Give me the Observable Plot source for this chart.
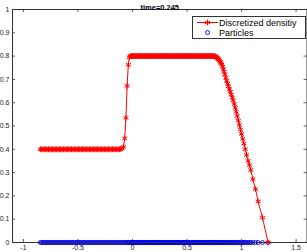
<!DOCTYPE html>
<html>
<head>
<meta charset="utf-8">
<script src="https://cdn.jsdelivr.net/npm/d3@7"></script>
<script src="https://cdn.jsdelivr.net/npm/@observablehq/plot@0.6"></script>
<style>
  body { margin: 0; background: #fff; }
  #wrap { position: relative; width: 307px; height: 252px; font-family: "Liberation Sans", Arial, sans-serif; }
  #legend { position: absolute; left: 192px; top: 16px; width: 112px; height: 21px; border: 1px solid #333; background: #fff; }
  #legend svg { position: absolute; left: 0; top: 0; }
</style>
</head>
<body>
<div id="wrap"></div>
<script>
const title = "time=0.245";
const xTicks = [-1, -0.5, 0, 0.5, 1, 1.5];
const yTicks = [0, 0.1, 0.2, 0.3, 0.4, 0.5, 0.6, 0.7, 0.8, 0.9, 1];
const seriesNames = ["Discretized densitiy", "Particles"];

// particle positions / density: low plateau
const xLeft = [
  -0.845, -0.833, -0.82, -0.808, -0.795, -0.783, -0.77, -0.758, -0.745, -0.733,
  -0.72, -0.708, -0.695, -0.683, -0.67, -0.658, -0.645, -0.633, -0.62, -0.608,
  -0.595, -0.583, -0.57, -0.558, -0.545, -0.533, -0.52, -0.508, -0.495, -0.483,
  -0.47, -0.458, -0.445, -0.433, -0.42, -0.408, -0.395, -0.383, -0.37, -0.358,
  -0.345, -0.333, -0.32, -0.308, -0.295, -0.283, -0.27, -0.258, -0.245, -0.233,
  -0.22, -0.208, -0.195, -0.183, -0.17, -0.158, -0.145, -0.133, -0.12, -0.108,
  -0.095
];
const rhoLeft = [
  0.4, 0.4, 0.4, 0.4, 0.4, 0.4, 0.4, 0.4, 0.4, 0.4,
  0.4, 0.4, 0.4, 0.4, 0.4, 0.4, 0.4, 0.4, 0.4, 0.4,
  0.4, 0.4, 0.4, 0.4, 0.4, 0.4, 0.4, 0.4, 0.4, 0.4,
  0.4, 0.4, 0.4, 0.4, 0.4, 0.4, 0.4, 0.4, 0.4, 0.4,
  0.4, 0.4, 0.4, 0.4, 0.4, 0.4, 0.4, 0.4, 0.4, 0.4,
  0.4, 0.4, 0.4, 0.4, 0.4, 0.4, 0.4, 0.4, 0.4, 0.401,
  0.404
];
// jump
const xRise = [-0.083, -0.071, -0.06, -0.049, -0.038, -0.029, -0.021];
const rhoRise = [0.41, 0.447, 0.535, 0.672, 0.763, 0.795, 0.799];
// high plateau
const xTop = [
  -0.014, -0.007, 0, 0.007, 0.014, 0.021, 0.028, 0.035, 0.042, 0.049,
  0.056, 0.063, 0.07, 0.077, 0.084, 0.091, 0.098, 0.105, 0.112, 0.119,
  0.126, 0.133, 0.14, 0.147, 0.154, 0.161, 0.168, 0.175, 0.182, 0.189,
  0.196, 0.203, 0.21, 0.217, 0.224, 0.231, 0.238, 0.245, 0.252, 0.259,
  0.266, 0.273, 0.28, 0.287, 0.294, 0.301, 0.308, 0.315, 0.322, 0.329,
  0.336, 0.343, 0.35, 0.357, 0.364, 0.371, 0.378, 0.385, 0.392, 0.399,
  0.406, 0.413, 0.42, 0.427, 0.434, 0.441, 0.448, 0.455, 0.462, 0.469,
  0.476, 0.483, 0.49, 0.497, 0.504, 0.511, 0.518, 0.525, 0.532, 0.539,
  0.546, 0.553, 0.56, 0.567, 0.574, 0.581, 0.588, 0.595, 0.602, 0.609,
  0.616, 0.623, 0.63, 0.637, 0.644, 0.651, 0.658, 0.665, 0.672, 0.679,
  0.686, 0.693, 0.7, 0.707, 0.714, 0.721, 0.728, 0.735, 0.742
];
const rhoTop = [
  0.8, 0.8, 0.8, 0.8, 0.8, 0.8, 0.8, 0.8, 0.8, 0.8,
  0.8, 0.8, 0.8, 0.8, 0.8, 0.8, 0.8, 0.8, 0.8, 0.8,
  0.8, 0.8, 0.8, 0.8, 0.8, 0.8, 0.8, 0.8, 0.8, 0.8,
  0.8, 0.8, 0.8, 0.8, 0.8, 0.8, 0.8, 0.8, 0.8, 0.8,
  0.8, 0.8, 0.8, 0.8, 0.8, 0.8, 0.8, 0.8, 0.8, 0.8,
  0.8, 0.8, 0.8, 0.8, 0.8, 0.8, 0.8, 0.8, 0.8, 0.8,
  0.8, 0.8, 0.8, 0.8, 0.8, 0.8, 0.8, 0.8, 0.8, 0.8,
  0.8, 0.8, 0.8, 0.8, 0.8, 0.8, 0.8, 0.8, 0.8, 0.8,
  0.8, 0.8, 0.8, 0.8, 0.8, 0.8, 0.8, 0.8, 0.8, 0.8,
  0.8, 0.8, 0.8, 0.8, 0.8, 0.8, 0.8, 0.8, 0.8, 0.8,
  0.8, 0.8, 0.8, 0.8, 0.8, 0.8, 0.8, 0.8, 0.8
];
// rarefaction / decay
const xFall = [
  0.749, 0.756, 0.763, 0.77, 0.777, 0.784, 0.791, 0.798, 0.805, 0.812,
  0.819, 0.826, 0.833, 0.84, 0.848, 0.856, 0.864, 0.872, 0.88, 0.888,
  0.897, 0.906, 0.915, 0.924, 0.933, 0.942, 0.951, 0.96, 0.97, 0.98,
  0.99, 1.0, 1.011, 1.022, 1.034, 1.046, 1.06, 1.072, 1.085, 1.104,
  1.128, 1.152, 1.192, 1.243
];
const rhoFall = [
  0.8, 0.799, 0.797, 0.795, 0.792, 0.789, 0.785, 0.78, 0.775, 0.77,
  0.764, 0.755, 0.744, 0.733, 0.721, 0.707, 0.694, 0.682, 0.67, 0.658,
  0.647, 0.635, 0.622, 0.609, 0.594, 0.578, 0.561, 0.543, 0.523, 0.504,
  0.485, 0.466, 0.445, 0.424, 0.4, 0.376, 0.35, 0.332, 0.311, 0.272,
  0.229, 0.176, 0.107, 0
];

const particleX = [...xLeft, ...xRise, ...xTop, ...xFall];
const density = [...rhoLeft, ...rhoRise, ...rhoTop, ...rhoFall];
const data = particleX.map((x, i) => ({x, rho: density[i]}));

const red = "#ff0000", blue = "#0000ff", axisColor = "#333";
const xDomain = [-1.1, 1.6], yDomain = [0, 1];
const W = 307, H = 252, mL = 12, mR = 0.5, mT = 9, mB = 10;
const tx = 3 * (xDomain[1] - xDomain[0]) / (W - mL - mR);
const ty = 3 * (yDomain[1] - yDomain[0]) / (H - mT - mB);

const chart = Plot.plot({
  width: W, height: H,
  marginLeft: mL, marginRight: mR, marginTop: mT, marginBottom: mB,
  style: {fontFamily: '"Liberation Sans", Arial, sans-serif', background: "#fff", overflow: "visible"},
  x: {domain: xDomain},
  y: {domain: yDomain},
  marks: [
    Plot.axisX({ticks: xTicks, tickSize: 0, tickPadding: 3, fontSize: 7, tickFormat: d => String(d), label: null, fill: "#222"}),
    Plot.axisY({ticks: yTicks, tickSize: 0, tickPadding: 3, fontSize: 7, tickFormat: d => String(d), label: null, fill: "#222"}),
    Plot.ruleX(xTicks, {x: d => d, y1: yDomain[0], y2: yDomain[0] + ty, stroke: axisColor, strokeWidth: 0.8}),
    Plot.ruleX(xTicks, {x: d => d, y1: yDomain[1], y2: yDomain[1] - ty, stroke: axisColor, strokeWidth: 0.8}),
    Plot.ruleY(yTicks, {y: d => d, x1: xDomain[0], x2: xDomain[0] + tx, stroke: axisColor, strokeWidth: 0.8}),
    Plot.ruleY(yTicks, {y: d => d, x1: xDomain[1], x2: xDomain[1] - tx, stroke: axisColor, strokeWidth: 0.8}),
    Plot.dot(data, {x: "x", y: 0, r: 2, stroke: blue, strokeWidth: 0.9, fill: "none"}),
    Plot.line(data, {x: "x", y: "rho", stroke: red, strokeWidth: 1}),
    Plot.dot(data, {x: "x", y: "rho", symbol: "asterisk", r: 2.7, stroke: red, strokeWidth: 1}),
    Plot.frame({stroke: axisColor, strokeWidth: 1}),
    Plot.text([title], {frameAnchor: "top", dy: -5, fontWeight: "bold", fontSize: 7.5, fill: "#000"})
  ]
});

const wrap = document.getElementById("wrap");
wrap.appendChild(chart);

// legend
const legend = document.createElement("div");
legend.id = "legend";
wrap.appendChild(legend);
const ls = d3.select(legend).append("svg").attr("width", 112).attr("height", 21)
  .style("font-family", '"Liberation Sans", Arial, sans-serif');
ls.append("line").attr("x1", 4).attr("x2", 25).attr("y1", 5.5).attr("y2", 5.5).attr("stroke", red).attr("stroke-width", 1);
ls.append("path").attr("d", d3.symbol(d3.symbolAsterisk, Math.PI * 2.7 * 2.7)()).attr("transform", "translate(14.5,5.5)").attr("stroke", red).attr("fill", "none");
ls.append("text").attr("x", 26).attr("y", 5.5).attr("dy", "0.35em").attr("font-size", 9).text(seriesNames[0]);
ls.append("circle").attr("cx", 14.5).attr("cy", 15.5).attr("r", 2).attr("stroke", blue).attr("fill", "none").attr("stroke-width", 0.9);
ls.append("text").attr("x", 26).attr("y", 15.5).attr("dy", "0.35em").attr("font-size", 9).text(seriesNames[1]);
</script>
</body>
</html>
